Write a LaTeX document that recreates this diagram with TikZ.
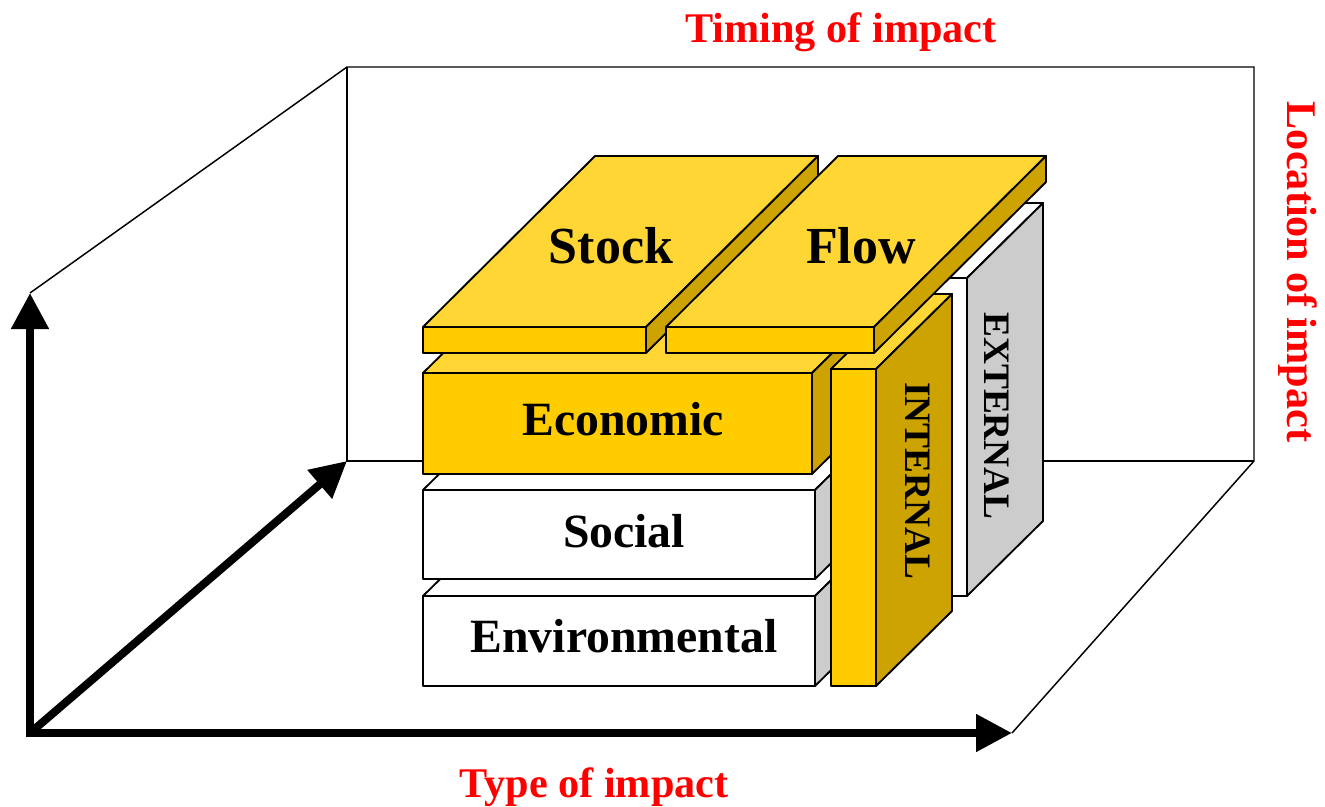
\documentclass[tikz,border=0pt]{standalone}
\usepackage{fontspec}
\setmainfont{Liberation Serif}
\usetikzlibrary{arrows.meta}
\definecolor{ytop}{RGB}{255,214,51}
\definecolor{yfront}{RGB}{255,204,0}
\definecolor{yside}{RGB}{204,163,0}
\definecolor{gside}{RGB}{204,204,204}
\definecolor{labred}{RGB}{255,0,0}
% #1,#2 front top-left; #3,#4 front bottom-right; #5 depth right, #6 depth up; #7 front, #8 top, #9 side
\newcommand{\slab}[9]{%
  \filldraw[boxline,fill=#8] (#1,#2) -- ({#1+#5},{#2-#6}) -- ({#3+#5},{#2-#6}) -- (#3,#2) -- cycle;
  \filldraw[boxline,fill=#9] (#3,#2) -- ({#3+#5},{#2-#6}) -- ({#3+#5},{#4-#6}) -- (#3,#4) -- cycle;
  \filldraw[boxline,fill=#7] (#1,#2) rectangle (#3,#4);
}
\begin{document}
\begin{tikzpicture}[x=0.75pt,y=-0.75pt,
  boxline/.style={draw=black,line width=1.4pt,line join=round},
  frameline/.style={draw=black,line width=1.1pt},
  axis/.style={line width=6pt,-{Triangle[length=27pt,width=27pt]}},
  lab/.style={text=labred,font=\bfseries\fontsize{31.7}{36}\selectfont,inner sep=0pt},
  big/.style={font=\bfseries\fontsize{39}{44}\selectfont,inner sep=0pt},
  mid/.style={font=\bfseries\fontsize{35.8}{40}\selectfont,inner sep=0pt},
  small/.style={font=\bfseries\fontsize{28}{32}\selectfont,inner sep=0pt,rotate=-90}]
\useasboundingbox (0,0) rectangle (1325,807);
\fill[white] (0,0) rectangle (1325,807);
% frame
\coordinate (O) at (30,733);
\coordinate (Ytip) at (30,293);
\coordinate (Xtip) at (1012,733);
\coordinate (Ztip) at (347,461);
\coordinate (BTL) at (347,67);
\coordinate (BTR) at (1254,67);
\coordinate (BBR) at (1254,461);
\draw[frameline] (Ytip) -- (BTL) -- (BTR) -- (BBR) -- (Xtip);
\draw[frameline] (BTL) -- (Ztip) -- (BBR);
% axes
\draw[axis] (O) -- (Ytip);
\draw[axis] (O) -- (Xtip);
\draw[axis] (O) -- (Ztip);
\fill (26,729) rectangle (34,737);
% slabs (back to front)
\slab{876}{278}{967}{596}{76}{75}{white}{white}{gside}
\slab{423}{596}{815}{686}{76}{75}{white}{white}{gside}
\slab{423}{490}{815}{579}{76}{75}{white}{white}{gside}
\slab{423}{373}{812}{474}{76}{75}{yfront}{ytop}{yside}
\slab{831}{369}{876}{686}{76}{75}{yfront}{ytop}{yside}
\slab{423}{327}{646}{353}{172}{171}{yfront}{ytop}{yside}
\slab{666}{327}{874}{353}{172}{171}{yfront}{ytop}{yside}
% texts
\node[big,anchor=base] (stock) at (611,263) {Stock};
\node[big,anchor=base] (flow) at (861,263) {Flow};
\node[mid,anchor=base] (econ) at (623,435) {Economic};
\node[mid,anchor=base] (soc) at (624,547) {Social};
\node[mid,anchor=base] (env) at (624,652) {Environmental};
\node[small] (int) at (918,481) {INTERNAL};
\node[small] (ext) at (997,416) {EXTERNAL};
\node[lab,anchor=base] (timing) at (841,42) {Timing of impact};
\node[lab,anchor=base] (type) at (594,797) {Type of impact};
\node[lab,rotate=-90] (loc) at (1298,272) {Location of impact};
\end{tikzpicture}
\end{document}
